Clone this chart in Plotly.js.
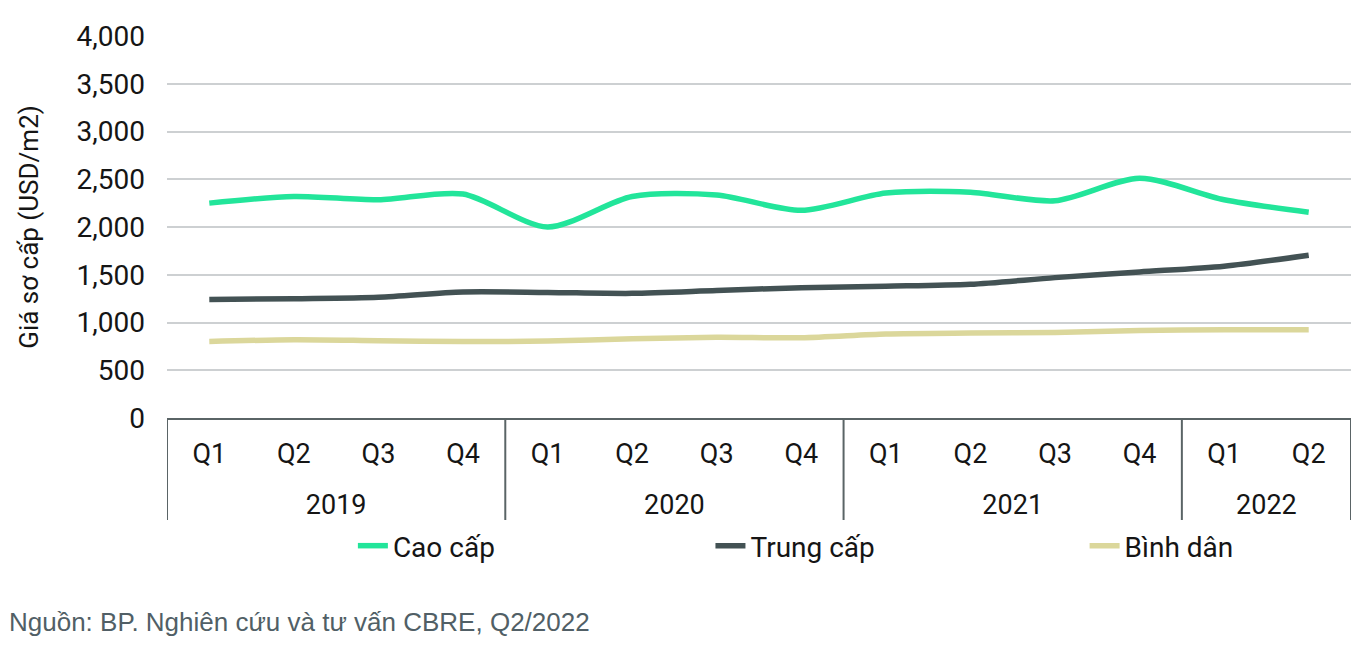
<!DOCTYPE html>
<html>
<head>
<meta charset="utf-8">
<script src="https://cdn.plot.ly/plotly-3.0.1.min.js"></script>
<style>html,body{margin:0;padding:0;background:#fff;}#chart{width:1369px;height:649px;}</style>
</head>
<body>
<div id="chart"></div>
<script>
const years = ["2019","2019","2019","2019","2020","2020","2020","2020","2021","2021","2021","2021","2022","2022"];
const quarters = ["Q1","Q2","Q3","Q4","Q1","Q2","Q3","Q4","Q1","Q2","Q3","Q4","Q1","Q2"];
const caoCap = [2250, 2320, 2285, 2345, 2000, 2320, 2335, 2175, 2355, 2365, 2275, 2510, 2285, 2155];
const trungCap = [1240, 1250, 1265, 1320, 1315, 1305, 1335, 1365, 1380, 1400, 1470, 1530, 1590, 1705];
const binhDan = [800, 820, 810, 800, 805, 830, 845, 840, 880, 890, 895, 915, 925, 925];
const seriesNames = ["Cao cấp", "Trung cấp", "Bình dân"];
const yTitle = "Giá sơ cấp (USD/m2)";
const sourceNote = "Nguồn: BP. Nghiên cứu và tư vấn CBRE, Q2/2022";

const font = "Roboto, 'Open Sans', sans-serif";
const textColor = "#151515";
const axisColor = "#5a6466";

// category keys (unique) and derived year groups
const keys = quarters.map((q, i) => years[i] + " " + q);
const groups = [];
years.forEach((y, i) => {
  const g = groups[groups.length - 1];
  if (g && g.year === y) g.end = i; else groups.push({year: y, start: i, end: i});
});
const groupCenters = groups.map(g => (g.start + g.end) / 2);
const boundaries = [groups[0].start - 0.5].concat(groups.map(g => g.end + 0.5));

const legendIds = ["legend", "legend2", "legend3"];
const mk = (name, y, color, lg) => ({
  type: "scatter", mode: "lines", name: name, x: keys, y: y, legend: lg,
  line: {color: color, width: 5.5, shape: "spline", smoothing: 0.8},
  hoverinfo: "skip"
});
const data = [
  mk(seriesNames[0], caoCap, "#22e59a", legendIds[0]),
  mk(seriesNames[1], trungCap, "#435254", legendIds[1]),
  mk(seriesNames[2], binhDan, "#dbd79b", legendIds[2])
];
const dividerShapes = boundaries.map(b => ({
  type: "line", xref: "x2", yref: "paper", x0: b, x1: b, y0: 0, y1: -0.267,
  line: {color: axisColor, width: 2}
}));
const legendBase = (xpos) => ({
  orientation: "h", x: xpos, xanchor: "left", y: -0.335, yanchor: "middle",
  bgcolor: "rgba(0,0,0,0)", font: {size: 28, color: textColor}, itemwidth: 30
});
const layout = {
  width: 1369, height: 649,
  margin: {l: 167, r: 18, t: 36, b: 231},
  paper_bgcolor: "#fff", plot_bgcolor: "#fff",
  font: {family: font, size: 27, color: textColor},
  showlegend: true,
  legend: legendBase(0.157),
  legend2: legendBase(0.459),
  legend3: legendBase(0.775),
  xaxis: {
    type: "category", range: [-0.5, keys.length - 0.5], tickvals: keys, ticktext: quarters,
    showgrid: false, showline: true, linecolor: axisColor, linewidth: 2,
    ticks: "", ticklabelstandoff: 11, tickfont: {size: 27, color: textColor}
  },
  xaxis2: {
    type: "linear", overlaying: "x", side: "bottom", anchor: "y",
    range: [-0.5, keys.length - 0.5], tickvals: groupCenters, ticktext: groups.map(g => g.year),
    showgrid: false, showline: false, zeroline: false, ticks: "",
    ticklabelstandoff: 68, tickfont: {size: 27, color: textColor}
  },
  yaxis: {
    range: [0, 4000], tickvals: [0,500,1000,1500,2000,2500,3000,3500,4000], tickformat: ",d",
    showgrid: true, gridcolor: "#cdd0d2", gridwidth: 2, zeroline: false, showline: false,
    ticklabelstandoff: 21, tickfont: {size: 28, color: textColor},
    title: {text: yTitle, font: {size: 26, color: textColor}, standoff: 30}
  },
  shapes: dividerShapes,
  annotations: [{
    text: sourceNote, xref: "paper", yref: "paper", x: -0.135, y: -0.535,
    xanchor: "left", yanchor: "middle", showarrow: false,
    font: {family: "'Liberation Sans', Arial, sans-serif", size: 26, color: "#515f66"}
  }]
};
Plotly.newPlot("chart", data, layout, {displayModeBar: false, staticPlot: true});
</script>
</body>
</html>
